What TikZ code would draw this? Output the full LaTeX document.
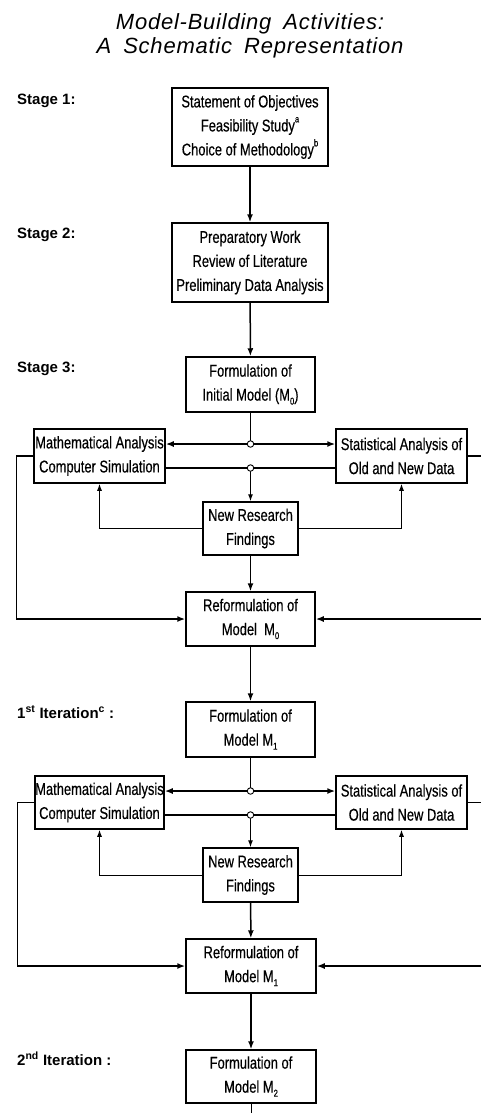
\documentclass[tikz,border=0pt]{standalone}
\usepackage{fontspec}
\setmainfont{Liberation Sans}
\newfontfamily\boxfont[FakeStretch=0.76,FakeBold=0.4]{Liberation Sans}
\newfontfamily\titlefont[LetterSpace=3.5]{Liberation Sans}
\usetikzlibrary{arrows.meta}
% lowered index (M_0 ...) and raised footnote marks
\newcommand\lowidx[1]{\raisebox{-.45ex}{\fontsize{10}{10}\selectfont #1}}
\newcommand\highidx[1]{\raisebox{1ex}{\fontsize{10}{10}\selectfont #1}}
\newcommand\wordgap{\hspace{12pt}}

\begin{document}
\begin{tikzpicture}[x=1pt,y=-1pt,
  box/.style={draw,line width=1.5pt,inner sep=0pt,align=center,
    font=\boxfont\fontsize{17}{24}\selectfont},
  stagelabel/.style={anchor=base west,inner sep=0pt,
    font=\bfseries\fontsize{15}{15}\selectfont},
  titleline/.style={anchor=base,inner sep=0pt,
    font=\titlefont\itshape\fontsize{22}{24}\selectfont},
  flow/.style={line width=1.5pt,-{Latex[length=8pt,width=6pt]}},
  thinflow/.style={line width=1pt,-{Latex[length=7pt,width=5pt]}},
  link/.style={line width=1.5pt},
  junction/.style={circle,draw,fill=white,line width=0.9pt,inner sep=0pt,minimum size=6.5pt}
]
\useasboundingbox (0,0) rectangle (481,1119);
\clip (0,0) rectangle (481,1119);

% title
\node[titleline] (title1) at (250,29) {Model-Building\wordgap Activities:};
\node[titleline] (title2) at (250,53) {A\wordgap Schematic\wordgap Representation};

% stage labels
\node[stagelabel] (lab1) at (17,104) {Stage 1:};
\node[stagelabel] (lab2) at (17,238) {Stage 2:};
\node[stagelabel] (lab3) at (17,372) {Stage 3:};
\node[stagelabel] (lab4) at (17,718) {1\textsuperscript{st} Iteration\textsuperscript{c} :};
\node[stagelabel] (lab5) at (17,1065) {2\textsuperscript{nd} Iteration :};

% stages 1 and 2
\node[box,minimum width=156pt,minimum height=78pt] (obj) at (250,127)
  {Statement of Objectives\\Feasibility Study\highidx{a}\\Choice of Methodology\highidx{b}};
\node[box,minimum width=156pt,minimum height=79pt] (prep) at (250,262.5)
  {Preparatory Work\\Review of Literature\\Preliminary Data Analysis};
\draw[flow] (obj) -- (prep);

% stage 3
\node[box,minimum width=129pt,minimum height=55pt] (init) at (250.5,384.5)
  {Formulation of\\Initial Model (M\lowidx{0})};
\draw[flow] (prep) -- (init);
\node[box,minimum width=131pt,minimum height=54pt] (mathA) at (99.5,456)
  {Mathematical Analysis\\Computer Simulation};
\node[box,minimum width=131pt,minimum height=54pt] (statA) at (401.5,456)
  {Statistical Analysis of\\Old and New Data};
\node[box,minimum width=95pt,minimum height=53pt] (nrfA) at (250.5,528.5)
  {New Research\\Findings};
\node[box,minimum width=129pt,minimum height=54pt] (refA) at (250.5,619)
  {Reformulation of\\Model\ \ M\lowidx{0}};
\coordinate (jAup) at (250.5,444);
\coordinate (jAlo) at (250.5,468);
\draw[link] (init.south) -- (jAup);
\draw[flow] (jAup) -- (mathA.east |- jAup);
\draw[flow] (jAup) -- (statA.west |- jAup);
\draw[link] (mathA.east |- jAlo) -- (statA.west |- jAlo);
\draw[thinflow] (jAlo) -- (nrfA.north);
\node[junction] (jAupc) at (jAup) {};
\node[junction] (jAloc) at (jAlo) {};
\draw[thinflow] (nrfA.west) -| (mathA.south);
\draw[thinflow] (nrfA.east) -| (statA.south);
\draw[flow] (nrfA) -- (refA);
\draw[flow] (mathA.west) -- ++(-17,0) |- (refA.west);
\draw[flow] (statA.east) -- ++(22,0) |- (refA.east);

% first iteration
\node[box,minimum width=129pt,minimum height=55pt] (formB) at (250.5,729.5)
  {Formulation of\\Model M\lowidx{1}};
\draw[flow] (refA) -- (formB);
\node[box,minimum width=129pt,minimum height=53pt] (mathB) at (99.5,802.5)
  {Mathematical Analysis\\Computer Simulation};
\node[box,minimum width=131pt,minimum height=53pt] (statB) at (401.5,802.5)
  {Statistical Analysis of\\Old and New Data};
\node[box,minimum width=95pt,minimum height=54pt] (nrfB) at (250.5,875)
  {New Research\\Findings};
\node[box,minimum width=130pt,minimum height=54pt] (refB) at (251,966)
  {Reformulation of\\Model M\lowidx{1}};
\coordinate (jBup) at (250.5,791);
\coordinate (jBlo) at (250.5,815);
\draw[link] (formB.south) -- (jBup);
\draw[flow] (jBup) -- (mathB.east |- jBup);
\draw[flow] (jBup) -- (statB.west |- jBup);
\draw[link] (mathB.east |- jBlo) -- (statB.west |- jBlo);
\draw[thinflow] (jBlo) -- (nrfB.north);
\node[junction] (jBupc) at (jBup) {};
\node[junction] (jBloc) at (jBlo) {};
\draw[thinflow] (nrfB.west) -| (mathB.south);
\draw[thinflow] (nrfB.east) -| (statB.south);
\draw[flow] (nrfB) -- (refB);
\draw[flow] (mathB.west) -- ++(-17,0) |- (refB.west);
\draw[flow] (statB.east) -- ++(22,0) |- (refB.east);

% second iteration
\node[box,minimum width=130pt,minimum height=53pt] (formC) at (251,1076.5)
  {Formulation of\\Model M\lowidx{2}};
\draw[flow] (refB) -- (formC);
\coordinate (tail) at (251,1113);
\draw[line width=1pt] (formC.south) -- (tail);
\end{tikzpicture}
\end{document}
